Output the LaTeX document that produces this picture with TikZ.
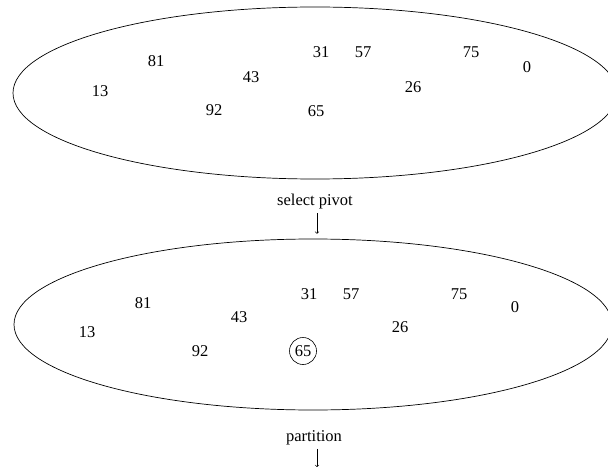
\documentclass[tikz,border=0pt]{standalone}
\usepackage{fontspec}
\setmainfont{Liberation Serif}
\usetikzlibrary{shapes.geometric}
\begin{document}
\begin{tikzpicture}[x=1pt,y=1pt,font=\fontsize{16.5}{20}\selectfont]
\useasboundingbox (0,0) rectangle (608,-468);
% the two sets
\node[draw,line width=0.7pt,ellipse,minimum width=604pt,minimum height=172pt] (set1) at (315,-93) {};
\node[draw,line width=0.7pt,ellipse,minimum width=598pt,minimum height=171pt] (set2) at (313,-324.5) {};
% numbers in first set
\foreach \v/\x/\y in {81/156/61,13/100/91,43/251/77,92/214/110,31/321/52,57/363/52,65/316/111,75/471/52,26/413/87,0/527/67}
  \node (a\v) at (\x,-\y) {\v};
% numbers in second set
\foreach \v/\x/\y in {81/143/303,13/87/332,43/239/317,92/200/351,31/309/294,57/351/294,75/459/294,26/400/327,0/515/307}
  \node (b\v) at (\x,-\y) {\v};
\node[draw,circle,line width=0.6pt,inner sep=0pt,minimum size=27pt] (b65) at (303,-351) {65};
% steps
\node (sel) at (315,-202) {select pivot};
\draw[->,line width=0.6pt,shorten >=5pt] (sel.south-|317,0) -- (set2.north-|317,0);
\node (part) at (314,-438) {partition};
\coordinate (out) at (317,-467);
\draw[->,line width=0.6pt] (part.south-|317,0) -- (out);
\end{tikzpicture}
\end{document}
